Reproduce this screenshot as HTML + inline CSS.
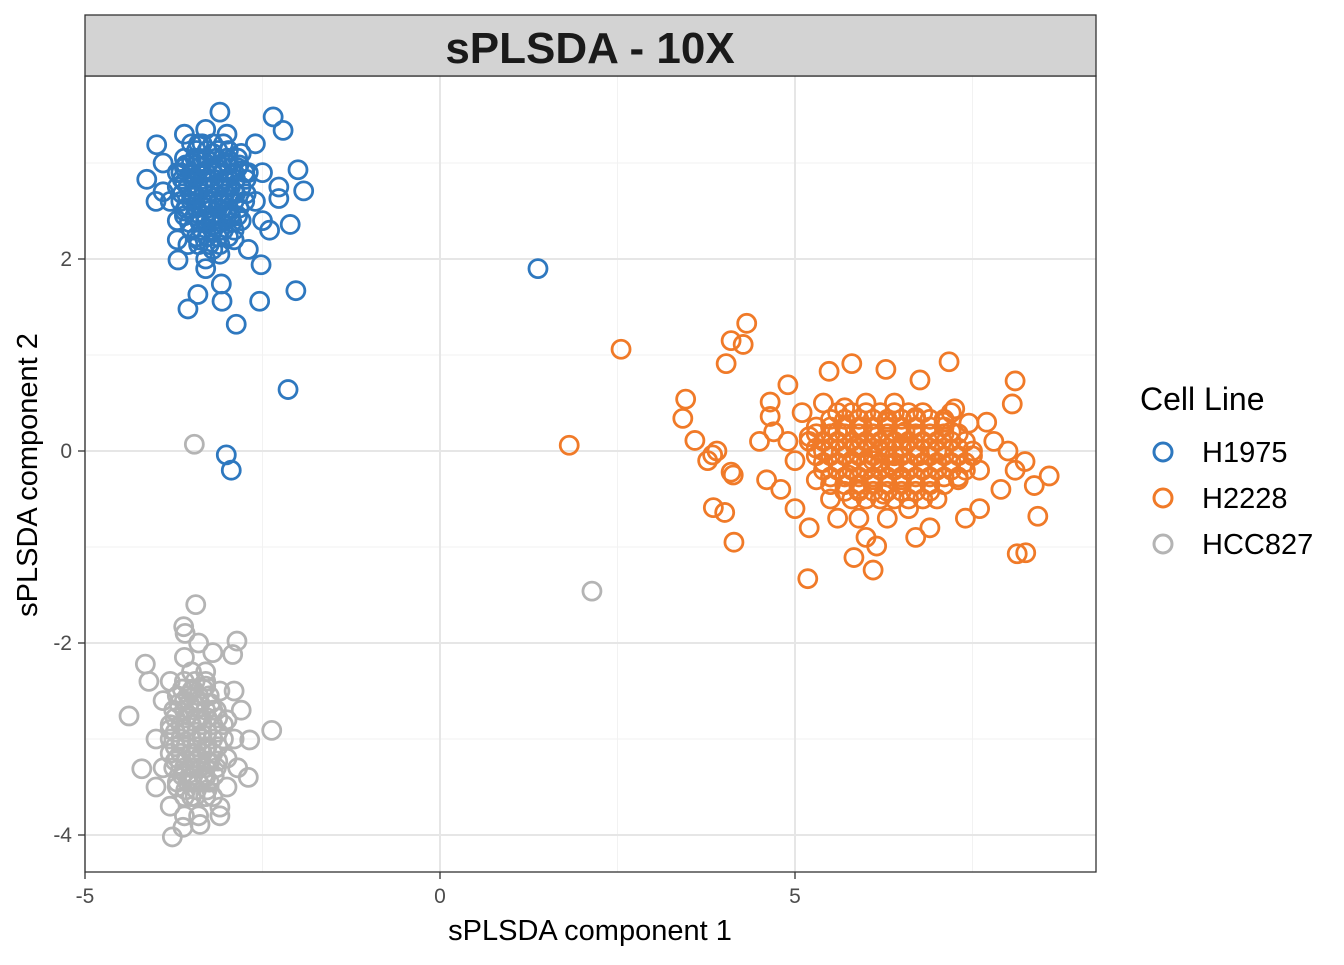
<!DOCTYPE html>
<html><head><meta charset="utf-8"><style>
html,body{margin:0;padding:0;background:#fff;}
svg text{font-family:"Liberation Sans",Arial,sans-serif;}
</style></head><body>
<svg id="chart" width="1344" height="960" xmlns="http://www.w3.org/2000/svg">
<rect x="0" y="0" width="1344" height="960" fill="#fff"/>
<g id="grid"></g>
<g id="points"></g>
<rect x="85" y="76" width="1011" height="796" fill="none" stroke="#333" stroke-width="1.3"/>
<rect x="85" y="15" width="1011" height="61" fill="#d3d3d3" stroke="#333" stroke-width="1.3"/>
<text x="590" y="63" text-anchor="middle" font-size="44" font-weight="bold" fill="#1a1a1a">sPLSDA - 10X</text>
<g id="axes"></g>
<text x="590" y="940" text-anchor="middle" font-size="29" fill="#000">sPLSDA component 1</text>
<text transform="translate(37,475) rotate(-90)" text-anchor="middle" font-size="29" fill="#000">sPLSDA component 2</text>
<g>
<text x="1140" y="410" font-size="32" fill="#000">Cell Line</text>
<g><circle cx="1163" cy="452" r="9" fill="none" stroke="#2e78bf" stroke-width="3"/><text x="1202" y="462" font-size="29" fill="#000">H1975</text></g>
<g><circle cx="1163" cy="498" r="9" fill="none" stroke="#f07a28" stroke-width="3"/><text x="1202" y="508" font-size="29" fill="#000">H2228</text></g>
<g><circle cx="1163" cy="544" r="9" fill="none" stroke="#b4b4b4" stroke-width="3"/><text x="1202" y="554" font-size="29" fill="#000">HCC827</text></g>
</g>
</svg>
<script>
const xTicks=[-5,0,5];
const yTicks=[-4,-2,0,2];
const xMinor=[-2.5,2.5,7.5];
const yMinor=[-3,-1,1,3];
const h1975X=[-3.5,-3.3,-3.1,-3.4,-3.2,-3.0,-3.6,-3.3,-3.1,-3.5,-3.2,-3.4,-3.0,-2.9,-3.6,-3.7,-3.8,-3.7,-3.4,-3.2,-2.9,-2.8,-2.7,-2.8,-3.0,-3.3,-3.6,-3.9,-3.5,-3.25,-3.15,-3.45,-3.35,-3.05,-2.95,-3.55,-3.7,-2.6,-2.6,-2.5,-2.4,-3.9,-4.0,-2.5,-3.1,-2.7,-3.3,-2.85,-3.2,-3.45,-3.3,-3.1,-3.4,-3.2,-3.0,-3.5,-3.6,-3.25,
1.38,-2.14,-3.01,-2.94,-3.99,-4.13,-3.1,-2.35,-2.21,-1.92,-2.0,-2.11,-2.03,-2.54,-2.87,-3.55,-3.41,-3.07,-3.08,-3.69,-2.52,-3.3,-2.27,-2.27];
const h1975Y=[3.0,2.9,2.8,2.7,2.6,2.5,2.5,2.4,2.3,2.3,3.1,3.2,3.0,2.7,2.8,2.9,2.6,2.4,2.2,2.1,2.2,2.4,2.9,3.1,3.3,3.35,3.3,2.7,2.6,2.75,2.95,2.85,2.55,2.65,2.45,2.15,2.2,2.6,3.2,2.4,2.3,3.0,2.6,2.9,2.05,2.1,2.0,2.95,2.4,2.45,2.8,2.6,3.05,2.35,2.75,2.65,2.95,2.5,
1.9,0.64,-0.04,-0.2,3.19,2.83,3.53,3.48,3.34,2.71,2.93,2.36,1.67,1.56,1.32,1.48,1.63,1.56,1.74,1.99,1.94,1.9,2.63,2.75];
const h1975CoreX=[-3.5,-3.35,-3.2,-3.05,
-3.6,-3.45,-3.3,-3.15,-3.0,-2.85,
-3.65,-3.5,-3.35,-3.2,-3.05,-2.9,-2.75,
-3.7,-3.55,-3.4,-3.25,-3.1,-2.95,-2.8,
-3.65,-3.5,-3.35,-3.2,-3.05,-2.9,-2.75,
-3.6,-3.45,-3.3,-3.15,-3.0,-2.85,
-3.5,-3.35,-3.2,-3.05,-2.9,
-3.4,-3.25,-3.1];
const h1975CoreY=[3.2,3.2,3.2,3.2,
3.05,3.05,3.05,3.05,3.05,3.05,
2.9,2.9,2.9,2.9,2.9,2.9,2.9,
2.75,2.75,2.75,2.75,2.75,2.75,2.75,
2.6,2.6,2.6,2.6,2.6,2.6,2.6,
2.45,2.45,2.45,2.45,2.45,2.45,
2.3,2.3,2.3,2.3,2.3,
2.15,2.15,2.15];
const h1975Core2X=[-3.43,-3.28,-3.13,-2.98,
-3.58,-3.43,-3.28,-3.13,-2.98,-2.83,
-3.63,-3.48,-3.33,-3.18,-3.03,-2.88,-2.73,
-3.63,-3.48,-3.33,-3.18,-3.03,-2.88,-2.73,
-3.58,-3.43,-3.28,-3.13,-2.98,-2.83,
-3.53,-3.38,-3.23,-3.08,-2.93,
-3.43,-3.28,-3.13,-2.98];
const h1975Core2Y=[3.13,3.13,3.13,3.13,
2.98,2.98,2.98,2.98,2.98,2.98,
2.83,2.83,2.83,2.83,2.83,2.83,2.83,
2.68,2.68,2.68,2.68,2.68,2.68,2.68,
2.53,2.53,2.53,2.53,2.53,2.53,
2.38,2.38,2.38,2.38,2.38,
2.23,2.23,2.23,2.23];
const h2228X=[6.2,6.0,5.8,6.4,6.6,5.6,6.3,6.1,5.9,6.5,6.8,7.0,7.2,5.4,5.2,5.0,5.3,5.5,5.7,6.0,6.4,6.7,7.0,7.3,7.5,7.6,7.8,7.9,6.6,6.3,5.9,5.6,5.1,4.9,4.8,5.0,7.2,7.4,6.9,6.15,6.35,5.95,6.55,6.75,5.75,6.25,7.1,5.4,4.7,4.6,8.0,8.1,7.7,5.2,6.0,6.7,7.6,4.5,6.1,6.5,5.85,6.9,
2.55,1.82,5.18,4.32,4.1,4.27,4.03,3.46,3.42,3.59,3.77,3.84,3.9,4.1,4.13,3.85,4.01,4.14,8.13,8.25,8.42,8.58,8.37,8.24,8.1,8.06,7.17,6.28,5.8,5.48,4.9,4.65,4.65,5.83,6.15,6.1,6.76,7.25,7.45];
const h2228Y=[0,0.1,-0.1,-0.05,0.1,0.2,0.3,-0.3,-0.4,-0.3,-0.2,0,0.2,0,0.15,-0.1,-0.3,-0.5,0.45,0.5,0.5,0.35,-0.5,-0.3,0,-0.2,0.1,-0.4,-0.6,-0.7,-0.7,-0.7,0.4,0.1,-0.4,-0.6,0.4,-0.7,-0.8,0.15,-0.15,0.25,0.2,-0.05,-0.25,-0.45,0.3,0.5,0.2,-0.3,0,-0.2,0.3,-0.8,-0.9,-0.9,-0.6,0.1,-0.1,0.05,0.05,-0.35,
1.06,0.06,-1.33,1.33,1.15,1.11,0.91,0.54,0.34,0.11,-0.1,-0.04,0,-0.22,-0.25,-0.59,-0.64,-0.95,-1.07,-1.06,-0.68,-0.26,-0.36,-0.11,0.73,0.49,0.93,0.85,0.91,0.83,0.69,0.51,0.36,-1.11,-0.99,-1.24,0.74,0.44,0.29];
const h2228CoreX=[5.6,5.8,6.0,6.2,6.4,6.6,6.8,
5.3,5.5,5.7,5.9,6.1,6.3,6.5,6.7,6.9,7.1,
5.2,5.4,5.6,5.8,6.0,6.2,6.4,6.6,6.8,7.0,7.2,7.4,
5.3,5.5,5.7,5.9,6.1,6.3,6.5,6.7,6.9,7.1,7.3,7.5,
5.4,5.6,5.8,6.0,6.2,6.4,6.6,6.8,7.0,7.2,7.4,
5.5,5.7,5.9,6.1,6.3,6.5,6.7,6.9,7.1,
5.8,6.0,6.2,6.4,6.6,6.8];
const h2228CoreY=[0.4,0.4,0.4,0.4,0.4,0.4,0.4,
0.25,0.25,0.25,0.25,0.25,0.25,0.25,0.25,0.25,0.25,
0.1,0.1,0.1,0.1,0.1,0.1,0.1,0.1,0.1,0.1,0.1,0.1,
-0.05,-0.05,-0.05,-0.05,-0.05,-0.05,-0.05,-0.05,-0.05,-0.05,-0.05,-0.05,
-0.2,-0.2,-0.2,-0.2,-0.2,-0.2,-0.2,-0.2,-0.2,-0.2,-0.2,
-0.35,-0.35,-0.35,-0.35,-0.35,-0.35,-0.35,-0.35,-0.35,
-0.5,-0.5,-0.5,-0.5,-0.5,-0.5];
const h2228Core2X=[5.5,5.7,5.9,6.1,6.3,6.5,6.7,6.9,7.1,
5.3,5.5,5.7,5.9,6.1,6.3,6.5,6.7,6.9,7.1,7.3,
5.3,5.5,5.7,5.9,6.1,6.3,6.5,6.7,6.9,7.1,7.3,
5.4,5.6,5.8,6.0,6.2,6.4,6.6,6.8,7.0,7.2,7.4,
5.5,5.7,5.9,6.1,6.3,6.5,6.7,6.9,7.1,7.3,
5.7,5.9,6.1,6.3,6.5,6.7,6.9];
const h2228Core2Y=[0.33,0.33,0.33,0.33,0.33,0.33,0.33,0.33,0.33,
0.18,0.18,0.18,0.18,0.18,0.18,0.18,0.18,0.18,0.18,0.18,
0.03,0.03,0.03,0.03,0.03,0.03,0.03,0.03,0.03,0.03,0.03,
-0.12,-0.12,-0.12,-0.12,-0.12,-0.12,-0.12,-0.12,-0.12,-0.12,-0.12,
-0.27,-0.27,-0.27,-0.27,-0.27,-0.27,-0.27,-0.27,-0.27,-0.27,
-0.42,-0.42,-0.42,-0.42,-0.42,-0.42,-0.42];
const hcc827X=[-3.5,-3.4,-3.6,-3.3,-3.5,-3.7,-3.4,-3.6,-3.2,-3.3,-3.5,-3.7,-3.9,-3.8,-3.9,-3.8,-3.5,-3.3,-3.1,-3.0,-3.0,-3.2,-3.4,-3.6,-4.0,-4.1,-3.45,-3.55,-3.35,-3.65,-3.25,-3.5,-2.9,-2.9,-3.2,-3.6,-3.4,-3.0,-3.8,-4.0,-3.1,-2.8,-2.85,-3.5,-3.4,-3.6,-3.3,
-3.46,2.14,-3.44,-4.38,-2.37,-2.86,-2.92,-2.68,-2.7,-3.77,-3.62,-3.38,-3.1,-4.2,-4.15,-3.61,-3.59];
const hcc827Y=[-3.0,-2.8,-2.9,-3.1,-3.3,-3.2,-2.6,-2.6,-2.7,-3.4,-3.6,-3.5,-3.3,-2.9,-2.6,-2.4,-2.3,-2.3,-2.5,-2.8,-3.2,-3.6,-3.8,-3.8,-3.0,-2.4,-3.15,-2.75,-2.95,-3.05,-3.25,-2.5,-2.5,-3.0,-2.1,-2.15,-2.0,-3.5,-3.7,-3.5,-3.8,-2.7,-3.3,-3.45,-3.2,-3.35,-2.45,
0.07,-1.46,-1.6,-2.76,-2.91,-1.98,-2.12,-3.01,-3.4,-4.02,-3.92,-3.89,-3.71,-3.31,-2.22,-1.83,-1.9];
const hcc827CoreX=[-3.6,-3.45,-3.3,
-3.7,-3.55,-3.4,-3.25,
-3.75,-3.6,-3.45,-3.3,-3.15,
-3.8,-3.65,-3.5,-3.35,-3.2,-3.05,
-3.8,-3.65,-3.5,-3.35,-3.2,-3.05,
-3.8,-3.65,-3.5,-3.35,-3.2,
-3.75,-3.6,-3.45,-3.3,-3.15,
-3.7,-3.55,-3.4,-3.25,
-3.6,-3.45,-3.3];
const hcc827CoreY=[-2.4,-2.4,-2.4,
-2.55,-2.55,-2.55,-2.55,
-2.7,-2.7,-2.7,-2.7,-2.7,
-2.85,-2.85,-2.85,-2.85,-2.85,-2.85,
-3.0,-3.0,-3.0,-3.0,-3.0,-3.0,
-3.15,-3.15,-3.15,-3.15,-3.15,
-3.3,-3.3,-3.3,-3.3,-3.3,
-3.45,-3.45,-3.45,-3.45,
-3.6,-3.6,-3.6];
const hcc827Core2X=[-3.63,-3.48,-3.33,
-3.68,-3.53,-3.38,-3.23,
-3.73,-3.58,-3.43,-3.28,-3.13,
-3.73,-3.58,-3.43,-3.28,-3.13,
-3.73,-3.58,-3.43,-3.28,-3.13,
-3.73,-3.58,-3.43,-3.28,-3.13,
-3.63,-3.48,-3.33,-3.18,
-3.58,-3.43,-3.28];
const hcc827Core2Y=[-2.48,-2.48,-2.48,
-2.63,-2.63,-2.63,-2.63,
-2.78,-2.78,-2.78,-2.78,-2.78,
-2.93,-2.93,-2.93,-2.93,-2.93,
-3.08,-3.08,-3.08,-3.08,-3.08,
-3.23,-3.23,-3.23,-3.23,-3.23,
-3.38,-3.38,-3.38,-3.38,
-3.53,-3.53,-3.53];
const NS='http://www.w3.org/2000/svg';
function sx(v){return 440+v*71;}
function sy(v){return 451-v*96;}
function mk(tag,attrs,parent){const e=document.createElementNS(NS,tag);for(const k in attrs)e.setAttribute(k,attrs[k]);parent.appendChild(e);return e;}
const grid=document.getElementById('grid');
const axes=document.getElementById('axes');
mk('rect',{x:85,y:76,width:1011,height:796,fill:'#fff'},grid);
xMinor.forEach(v=>{const l=mk('line',{x1:sx(v),x2:sx(v),y1:76,y2:872,stroke:'#f2f2f2','stroke-width':1},grid);

});
yMinor.forEach(v=>{const l=mk('line',{x1:85,x2:1096,y1:sy(v),y2:sy(v),stroke:'#f2f2f2','stroke-width':1},grid);

});
xTicks.forEach(v=>{const l=mk('line',{x1:sx(v),x2:sx(v),y1:76,y2:872,stroke:'#e6e6e6','stroke-width':2},grid);


const t=mk('line',{x1:sx(v),x2:sx(v),y1:872,y2:879,stroke:'#333','stroke-width':1.3},axes);


const tx=mk('text',{x:sx(v),y:903,'text-anchor':'middle','font-size':21,fill:'#4d4d4d'},axes);tx.textContent=v;

});
yTicks.forEach(v=>{const l=mk('line',{x1:85,x2:1096,y1:sy(v),y2:sy(v),stroke:'#e6e6e6','stroke-width':2},grid);


const t=mk('line',{x1:78,x2:85,y1:sy(v),y2:sy(v),stroke:'#333','stroke-width':1.3},axes);


const tx=mk('text',{x:72,y:sy(v)+7,'text-anchor':'end','font-size':21,fill:'#4d4d4d'},axes);tx.textContent=v;

});
const pts=document.getElementById('points');
function drawSeries(xs,ys,color,name){xs.forEach((x,i)=>{const c=mk('circle',{cx:sx(x),cy:sy(ys[i]),r:9,fill:'none',stroke:color,'stroke-width':2.8},pts);

});}
drawSeries(h1975X,h1975Y,'#2e78bf','point-h1975');
drawSeries(h1975CoreX,h1975CoreY,'#2e78bf','point-h1975');
drawSeries(h1975Core2X,h1975Core2Y,'#2e78bf','point-h1975');
drawSeries(h2228X,h2228Y,'#f07a28','point-h2228');
drawSeries(h2228CoreX,h2228CoreY,'#f07a28','point-h2228');
drawSeries(h2228Core2X,h2228Core2Y,'#f07a28','point-h2228');
drawSeries(hcc827X,hcc827Y,'#b4b4b4','point-hcc827');
drawSeries(hcc827CoreX,hcc827CoreY,'#b4b4b4','point-hcc827');
drawSeries(hcc827Core2X,hcc827Core2Y,'#b4b4b4','point-hcc827');
</script>
</body></html>
